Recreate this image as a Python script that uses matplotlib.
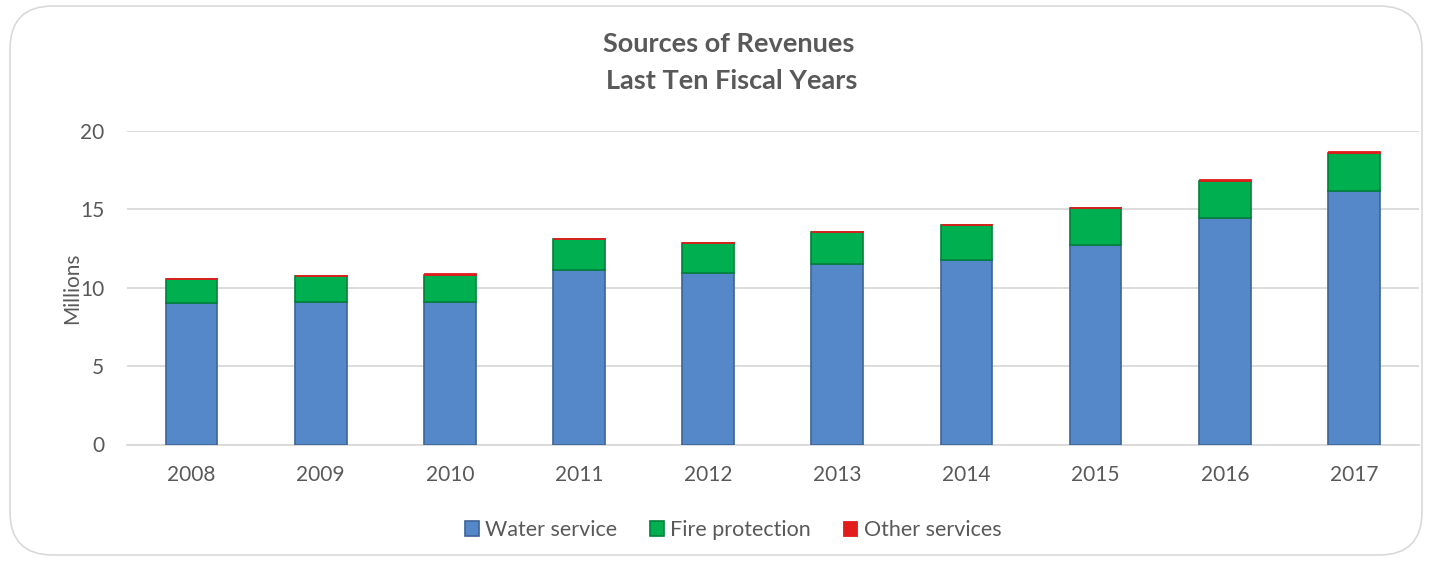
import matplotlib
matplotlib.use("Agg")
import matplotlib.pyplot as plt
from matplotlib.patches import FancyBboxPatch
import numpy as np

years = ["2008", "2009", "2010", "2011", "2012", "2013", "2014", "2015", "2016", "2017"]
water_service = [9.05, 9.12, 9.08, 11.14, 10.93, 11.51, 11.78, 12.72, 14.44, 16.19]
fire_protection = [1.48, 1.62, 1.75, 1.95, 1.94, 2.04, 2.20, 2.38, 2.39, 2.43]
other_services = [0.08, 0.08, 0.08, 0.08, 0.08, 0.08, 0.08, 0.08, 0.08, 0.08]
yticks = [0, 5, 10, 15, 20]

plt.rcParams['font.family'] = ['Lato', 'DejaVu Sans']
txt = '#595959'

fig = plt.figure(figsize=(14.32, 5.61), dpi=100)
fig.patch.set_facecolor('white')
border = FancyBboxPatch((10/1432, 6/561), 1412/1432, 549/561,
                        boxstyle="round,pad=0,rounding_size=0.03",
                        transform=fig.transFigure, facecolor='none',
                        edgecolor='#D9D9D9', linewidth=1.2, mutation_aspect=1432/561,
                        zorder=-5)
fig.patches.append(border)

ax = fig.add_axes([127/1432, 1 - 444.5/561, (1418.5 - 127)/1432, (444.5 - 131)/561])
ax.set_facecolor('none')
x = np.arange(len(years))
w = 0.4
water = np.array(water_service)
fire = np.array(fire_protection)
other = np.array(other_services)

ax.bar(x, water, w, color='#5588C8', edgecolor='#3D6496', linewidth=1.2, label='Water service', zorder=3)
ax.bar(x, fire, w, bottom=water, color='#00B050', edgecolor='#00803A', linewidth=1.2, label='Fire protection', zorder=3)
ax.bar(x, other, w, bottom=water + fire, color='#E31C1C', edgecolor='#E31C1C', linewidth=0.6, label='Other services', zorder=3)

ax.set_xlim(-0.5, len(years) - 0.5)
ax.set_ylim(0, 20)
ax.set_yticks(yticks)
ax.set_yticklabels([str(t) for t in yticks], fontsize=15, color=txt)
ax.set_xticks(x)
ax.set_xticklabels(years, fontsize=15, color=txt)
ax.tick_params(axis='x', length=0, pad=15)
ax.tick_params(axis='y', length=0, pad=16.5)
ax.grid(axis='y', color='#D9D9D9', linewidth=1.3, zorder=0)
for s in ['top', 'right', 'left']:
    ax.spines[s].set_visible(False)
ax.spines['bottom'].set_color('#D9D9D9')
ax.spines['bottom'].set_linewidth(1.3)
ax.set_ylabel('Millions', fontsize=15, color=txt)
ax.yaxis.set_label_coords(-(127 - 82)/1291.5, 0.5)

fig.text(729/1432, 1 - 44/561, 'Sources of Revenues', ha='center', va='center',
         fontsize=19.5, fontweight='bold', color=txt)
fig.text(732/1432, 1 - 81/561, 'Last Ten Fiscal Years', ha='center', va='center',
         fontsize=19.5, fontweight='bold', color=txt)

leg = fig.legend(loc='center', bbox_to_anchor=(733/1432, 1 - 530/561), ncol=3, frameon=False,
                 fontsize=15.5, handlelength=0.65, handleheight=0.65, handletextpad=0.3,
                 columnspacing=1.5)
for t in leg.get_texts():
    t.set_color(txt)

fig.savefig('out.png', dpi=100, facecolor='white')
